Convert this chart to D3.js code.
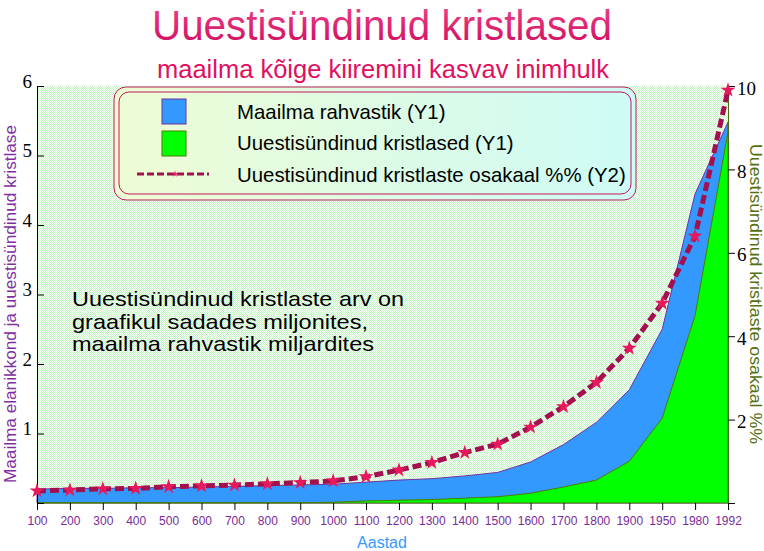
<!DOCTYPE html>
<html>
<head>
<meta charset="utf-8">
<script src="https://cdn.jsdelivr.net/npm/d3@7"></script>
<style>
  body { margin: 0; background: #fff; }
  svg { display: block; }
</style>
</head>
<body>
<div id="chart"></div>
<script>
// years on the x axis
const years = ["100", "200", "300", "400", "500", "600", "700", "800", "900", "1000",
  "1100", "1200", "1300", "1400", "1500", "1600", "1700", "1800", "1900", "1950", "1980", "1992"];
// world population, billions (Y1)
const population = [0.20, 0.21, 0.21, 0.22, 0.22, 0.23, 0.24, 0.25, 0.26, 0.27,
  0.30, 0.33, 0.35, 0.39, 0.44, 0.59, 0.84, 1.16, 1.63, 2.50, 4.45, 5.48];
// born-again christians, hundreds of millions (Y1)
const christians = [0.005, 0.005, 0.005, 0.005, 0.005, 0.005, 0.005, 0.005, 0.005, 0.01,
  0.03, 0.04, 0.05, 0.07, 0.09, 0.14, 0.23, 0.33, 0.60, 1.22, 2.70, 5.34];
// share of born-again christians, % (Y2)
const share = [0.29, 0.31, 0.34, 0.35, 0.39, 0.41, 0.43, 0.46, 0.49, 0.53,
  0.63, 0.79, 0.97, 1.21, 1.41, 1.82, 2.31, 2.89, 3.71, 4.79, 6.40, 9.90];
const y1Ticks = [0, 1, 2, 3, 4, 5, 6];
const y2Ticks = [0, 2, 4, 6, 8, 10];
const legendLabels = ["Maailma rahvastik (Y1)", "Uuestisündinud kristlased (Y1)",
  "Uuestisündinud kristlaste osakaal %% (Y2)"];
const noteLines = ["Uuestisündinud kristlaste arv on", "graafikul sadades miljonites,",
  "maailma rahvastik miljardites"];

const W = 764, H = 551;
const plot = {left: 37, right: 728, top: 86, bottom: 503};
const sans = "'Liberation Sans', Arial, sans-serif";
const serif = "'Liberation Serif', 'Times New Roman', serif";

const svg = d3.select("#chart").append("svg")
  .attr("width", W).attr("height", H);

const defs = svg.append("defs");

// dithered light green plot background
const pat = defs.append("pattern")
  .attr("id", "dither").attr("patternUnits", "userSpaceOnUse")
  .attr("width", 2).attr("height", 2);
pat.append("rect").attr("width", 2).attr("height", 2).attr("fill", "#ffffff");
pat.append("rect").attr("x", 0).attr("y", 0).attr("width", 1).attr("height", 1).attr("fill", "#c4f6c4");
pat.append("rect").attr("x", 1).attr("y", 1).attr("width", 1).attr("height", 1).attr("fill", "#c4f6c4");

const lg = defs.append("linearGradient").attr("id", "legendFill");
lg.append("stop").attr("offset", "0%").attr("stop-color", "#eefcd4");
lg.append("stop").attr("offset", "100%").attr("stop-color", "#cefbf6");

const tg = defs.append("linearGradient").attr("id", "titleFill")
  .attr("x1", 0).attr("y1", 0).attr("x2", 0).attr("y2", 1);
tg.append("stop").attr("offset", "0%").attr("stop-color", "#f0458a");
tg.append("stop").attr("offset", "100%").attr("stop-color", "#cc0a5c");

// scales
const x = d3.scalePoint().domain(years).range([plot.left, plot.right]);
const y1 = d3.scaleLinear().domain([0, 6]).range([plot.bottom, plot.top]);
const y2 = d3.scaleLinear().domain([0, 10]).range([plot.bottom, plot.top]);

// plot background
svg.append("rect")
  .attr("x", plot.left).attr("y", plot.top)
  .attr("width", plot.right - plot.left).attr("height", plot.bottom - plot.top)
  .attr("fill", "url(#dither)");

// titles
svg.append("text")
  .attr("x", 382).attr("y", 40)
  .attr("text-anchor", "middle")
  .attr("font-family", sans).attr("font-size", 43)
  .attr("textLength", 460).attr("lengthAdjust", "spacingAndGlyphs")
  .attr("fill", "url(#titleFill)")
  .text("Uuestisündinud kristlased");

svg.append("text")
  .attr("x", 383).attr("y", 78)
  .attr("text-anchor", "middle")
  .attr("font-family", sans).attr("font-size", 25)
  .attr("textLength", 452).attr("lengthAdjust", "spacingAndGlyphs")
  .attr("fill", "#e0105e")
  .text("maailma kõige kiiremini kasvav inimhulk");

// areas
const area1 = d3.area()
  .x((d, i) => x(years[i]))
  .y0(y1(0))
  .y1(d => y1(d));

svg.append("path")
  .datum(population)
  .attr("d", area1)
  .attr("fill", "#3399ff")
  .attr("stroke", "#7030a0")
  .attr("stroke-width", 1);

svg.append("path")
  .datum(christians)
  .attr("d", area1)
  .attr("fill", "#00ff00")
  .attr("stroke", "#4a7d00")
  .attr("stroke-width", 1);

// left axis
const axL = svg.append("g")
  .attr("transform", "translate(" + plot.left + ",0)")
  .call(d3.axisLeft(y1).tickValues(y1Ticks).tickSize(-7).tickPadding(5)
    .tickFormat(d => d === 0 ? "" : d));
axL.selectAll("line, path").attr("stroke", "#000");
axL.selectAll("text")
  .attr("dy", null).attr("y", 1)
  .attr("font-family", serif).attr("font-size", 19).attr("fill", "#000");

// right axis
const axR = svg.append("g")
  .attr("transform", "translate(" + plot.right + ",0)")
  .call(d3.axisRight(y2).tickValues(y2Ticks).tickSize(7).tickPadding(2)
    .tickFormat(d => d === 0 ? "" : d));
axR.select(".domain").attr("stroke", "#4a6a10");
axR.selectAll(".tick line").attr("stroke", "#000");
axR.selectAll("text")
  .attr("dy", null).attr("y", 8)
  .attr("font-family", serif).attr("font-size", 19).attr("fill", "#000");

// bottom axis
const axB = svg.append("g")
  .attr("transform", "translate(0," + plot.bottom + ")")
  .call(d3.axisBottom(x).tickSize(7).tickSizeOuter(0));
axB.select(".domain").remove();
axB.selectAll(".tick line").attr("stroke", "#000");
axB.selectAll("text")
  .attr("dy", null).attr("y", 22)
  .attr("font-family", sans).attr("font-size", 12).attr("fill", "#7a2a9a");

// share line with star markers
const line2 = d3.line()
  .x((d, i) => x(years[i]))
  .y(d => y2(d));

svg.append("path")
  .datum(share)
  .attr("d", line2)
  .attr("fill", "none")
  .attr("stroke", "#a3104f")
  .attr("stroke-width", 5)
  .attr("stroke-dasharray", "9,4");

const star = d3.symbol().type(d3.symbolStar).size(70);
svg.append("g")
  .selectAll("path")
  .data(share)
  .enter()
  .append("path")
  .attr("d", star)
  .attr("transform", (d, i) => "translate(" + x(years[i]) + "," + y2(d) + ")")
  .attr("fill", "#e8185c");

// axis titles
svg.append("text")
  .attr("transform", "translate(16,304) rotate(-90)")
  .attr("text-anchor", "middle")
  .attr("font-family", sans).attr("font-size", 16)
  .attr("textLength", 358).attr("lengthAdjust", "spacingAndGlyphs")
  .attr("fill", "#7f2f9f")
  .text("Maailma elanikkond ja uuestisündinud kristlase");

svg.append("text")
  .attr("transform", "translate(750,294) rotate(90)")
  .attr("text-anchor", "middle")
  .attr("font-family", sans).attr("font-size", 16)
  .attr("textLength", 300).attr("lengthAdjust", "spacingAndGlyphs")
  .attr("fill", "#557010")
  .text("Uuestisündinud kristlaste osakaal %%");

svg.append("text")
  .attr("x", 382).attr("y", 548)
  .attr("text-anchor", "middle")
  .attr("font-family", sans).attr("font-size", 16)
  .attr("fill", "#3399ff")
  .text("Aastad");

// note inside the plot
const noteWidths = [332, 296, 302];
svg.append("g")
  .selectAll("text")
  .data(noteLines)
  .enter()
  .append("text")
  .attr("x", 72)
  .attr("y", (d, i) => 306 + i * 22.5)
  .attr("font-family", sans).attr("font-size", 21)
  .attr("textLength", (d, i) => noteWidths[i]).attr("lengthAdjust", "spacingAndGlyphs")
  .attr("fill", "#000")
  .text(d => d);

// legend
const leg = svg.append("g");
leg.append("rect")
  .attr("x", 114).attr("y", 87).attr("width", 522).attr("height", 113)
  .attr("rx", 12).attr("ry", 12)
  .attr("fill", "url(#legendFill)").attr("stroke", "#c2185b").attr("stroke-width", 1);
leg.append("rect")
  .attr("x", 119).attr("y", 92).attr("width", 512).attr("height", 102)
  .attr("rx", 10).attr("ry", 10)
  .attr("fill", "none").attr("stroke", "#c2185b").attr("stroke-width", 1);

leg.append("rect")
  .attr("x", 162).attr("y", 99).attr("width", 24).attr("height", 25)
  .attr("fill", "#3399ff").attr("stroke", "#7030a0");
leg.append("rect")
  .attr("x", 162).attr("y", 131).attr("width", 24).attr("height", 25)
  .attr("fill", "#00ff00").attr("stroke", "#4a7d00");
leg.append("line")
  .attr("x1", 137).attr("x2", 209).attr("y1", 174).attr("y2", 174)
  .attr("stroke", "#a3104f").attr("stroke-width", 3).attr("stroke-dasharray", "7,3");
leg.append("path")
  .attr("d", d3.symbol().type(d3.symbolStar).size(14))
  .attr("transform", "translate(175,174)")
  .attr("fill", "#e8185c");

leg.selectAll("text.lab")
  .data(legendLabels)
  .enter()
  .append("text")
  .attr("class", "lab")
  .attr("x", 237)
  .attr("y", (d, i) => 119 + i * 31.3)
  .attr("font-family", sans).attr("font-size", 20.4)
  .attr("fill", "#000")
  .text(d => d);
</script>
</body>
</html>
